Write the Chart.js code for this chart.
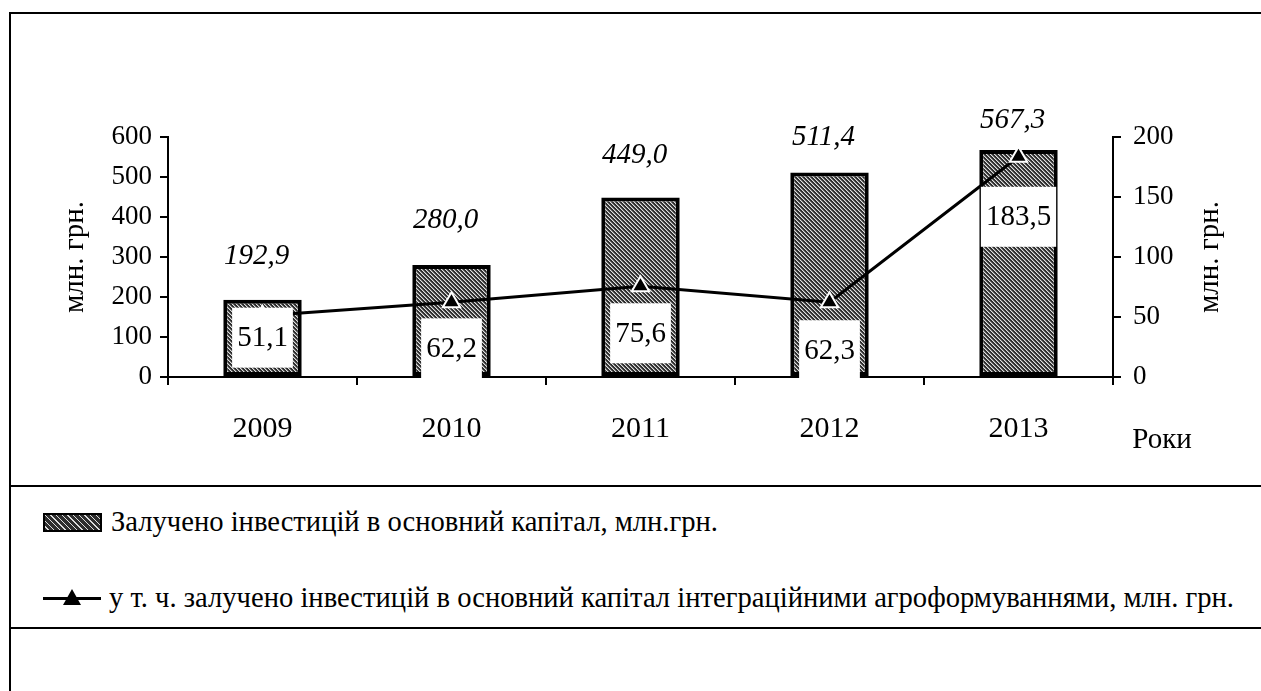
<!DOCTYPE html>
<html lang="uk">
<head>
<meta charset="utf-8">
<title>Інвестиції в основний капітал</title>
<script src="https://cdn.jsdelivr.net/npm/chart.js@4"></script>
<style>
    body { margin: 0; background: #fff; width: 1261px; height: 691px; overflow: hidden; position: relative; font-family: "Liberation Serif", "Times New Roman", serif; }
    #frame { position: absolute; left: 9px; top: 12px; width: 1400px; height: 800px; border-left: 2px solid #000; border-top: 2px solid #000; }
    .hline { position: absolute; left: 9px; width: 1252px; height: 0; border-top: 2px solid #000; }
    #chart-box { position: absolute; left: 0; top: 0; width: 1261px; height: 486px; }
    .legend-row { position: absolute; left: 43px; font-size: 28.6px; color: #000; white-space: nowrap; display: flex; align-items: center; }
    .swatch { width: 55px; height: 15px; border: 2px solid #000; margin-right: 9px;
        background: repeating-linear-gradient(45deg, #2e2e2e 0 2px, #ddd 2px 3px, #2e2e2e 3px 4px); }
    .line-sym { position: relative; width: 58px; height: 20px; margin-right: 8px; }
    .line-sym:before { content: ""; position: absolute; left: 0; right: 0; top: 9px; border-top: 3px solid #000; }
    .line-sym:after { content: ""; position: absolute; left: 20px; top: 1px; border-left: 9px solid transparent; border-right: 9px solid transparent; border-bottom: 16px solid #000; }
</style>
</head>
<body>
<div id="frame"></div>
<div class="hline" style="top:485px"></div>
<div class="hline" style="top:627px"></div>
<div id="chart-box"><canvas id="grafico" width="1261" height="486"></canvas></div>
<div class="legend-row" style="top:506px"><span class="swatch"></span>Залучено інвестицій в основний капітал, млн.грн.</div>
<div class="legend-row" style="top:582px"><span class="line-sym"></span>у т. ч. залучено інвестицій в основний капітал інтеграційними агроформуваннями, млн. грн.</div>

<script>
// дані з графіка
const roky = ['2009', '2010', '2011', '2012', '2013'];
const investytsii = [192.9, 280.0, 449.0, 511.4, 567.3];
const integratsiini = [51.1, 62.2, 75.6, 62.3, 183.5];
const tickyLivi = [0, 100, 200, 300, 400, 500, 600];
const tickyPravi = [0, 50, 100, 150, 200];
// відступ курсивних підписів над стовпчиками
const vidstupVerkh = [43, 45, 42, 35, 30];
// зсув білих підписів лінії вниз від точки
const zsuvPidpysiv = [22, 46, 47, 48, 60];

const FONT = '"Liberation Serif", "Times New Roman", serif';

function format(v) {
    return v.toFixed(1).replace('.', ',');
}

function makePattern() {
    var c = document.createElement('canvas');
    c.width = 4;
    c.height = 4;
    var g = c.getContext('2d');
    g.fillStyle = '#2e2e2e';
    g.fillRect(0, 0, 4, 4);
    for (let i = 0; i < 4; i++) {
        g.fillStyle = '#e0e0e0';
        g.fillRect(i, i, 1, 1);
        g.fillStyle = '#7a7a7a';
        g.fillRect((i + 1) % 4, i, 1, 1);
    }
    return g.createPattern(c, 'repeat');
}

// підписи значень, назви осей і "Роки"
const labelsPlugin = {
    id: 'labelsPlugin',
    afterDatasetsDraw(chart) {
        const ctx = chart.ctx;
        const area = chart.chartArea;
        ctx.save();
        ctx.fillStyle = '#000';
        ctx.textAlign = 'center';
        ctx.textBaseline = 'middle';

        // курсивні підписи над стовпчиками
        const bars = chart.getDatasetMeta(0).data;
        ctx.font = 'italic 29px ' + FONT;
        bars.forEach((bar, i) => {
            ctx.fillText(format(investytsii[i]), bar.x - 6, bar.y - vidstupVerkh[i]);
        });

        // білі рамки з підписами лінії
        const pts = chart.getDatasetMeta(1).data;
        ctx.font = '29px ' + FONT;
        pts.forEach((p, i) => {
            var y = p.y + zsuvPidpysiv[i];
            var txt = format(integratsiini[i]);
            var w = ctx.measureText(txt).width + 10;
            ctx.fillStyle = '#fff';
            ctx.fillRect(p.x - w / 2, y - 30, w, 60);
            ctx.fillStyle = '#000';
            ctx.fillText(txt, p.x, y + 1);
        });

        // назви осей
        ctx.font = '29px ' + FONT;
        var cy = (area.top + area.bottom) / 2;
        [75, 1210].forEach(x => {
            ctx.save();
            ctx.translate(x, cy);
            ctx.rotate(-Math.PI / 2);
            ctx.fillText('млн. грн.', 0, 0);
            ctx.restore();
        });

        ctx.fillText('Роки', 1162, 440);
        ctx.restore();
    }
};

document.addEventListener('DOMContentLoaded', () => {
    var ctx = document.getElementById('grafico').getContext('2d');
    new Chart(ctx, {
        type: 'bar',
        data: {
            labels: roky,
            datasets: [
                {
                    label: 'Залучено інвестицій в основний капітал, млн.грн.',
                    data: investytsii,
                    backgroundColor: makePattern(),
                    borderColor: '#000',
                    borderWidth: 4,
                    borderSkipped: false,
                    barPercentage: 0.5,
                    categoryPercentage: 0.83,
                    yAxisID: 'y',
                    order: 2
                },
                {
                    type: 'line',
                    label: 'у т. ч. залучено інвестицій в основний капітал інтеграційними агроформуваннями, млн. грн.',
                    data: integratsiini,
                    borderColor: '#000',
                    borderWidth: 3,
                    pointStyle: 'triangle',
                    pointRadius: 10,
                    pointBackgroundColor: '#000',
                    pointBorderColor: '#fff',
                    pointBorderWidth: 2,
                    tension: 0,
                    yAxisID: 'y1',
                    order: 1
                }
            ]
        },
        options: {
            responsive: false,
            animation: false,
            devicePixelRatio: 1,
            layout: { padding: { top: 137, left: 0, right: 0, bottom: 0 } },
            plugins: {
                legend: { display: false },
                tooltip: { enabled: false }
            },
            scales: {
                x: {
                    grid: { display: true, offset: true, drawOnChartArea: false, tickLength: 8, color: '#000', lineWidth: 2 },
                    border: { display: true, color: '#000', width: 2 },
                    ticks: { color: '#000', font: { family: FONT, size: 30 }, padding: 26 },
                    afterFit: s => { s.height = 109; }
                },
                y: {
                    position: 'left',
                    min: 0,
                    max: 600,
                    afterBuildTicks: s => { s.ticks = tickyLivi.map(v => ({ value: v })); },
                    grid: { drawOnChartArea: false, tickLength: 8, color: '#000', lineWidth: 2 },
                    border: { display: true, color: '#000', width: 2 },
                    ticks: { color: '#000', font: { family: FONT, size: 27 }, padding: 8 },
                    afterFit: s => { s.width = 168; }
                },
                y1: {
                    position: 'right',
                    min: 0,
                    max: 200,
                    afterBuildTicks: s => { s.ticks = tickyPravi.map(v => ({ value: v })); },
                    grid: { drawOnChartArea: false, tickLength: 8, color: '#000', lineWidth: 2 },
                    border: { display: true, color: '#000', width: 2 },
                    ticks: { color: '#000', font: { family: FONT, size: 27 }, padding: 12 },
                    afterFit: s => { s.width = 148; }
                }
            }
        },
        plugins: [labelsPlugin]
    });
});
</script>
</body>
</html>
